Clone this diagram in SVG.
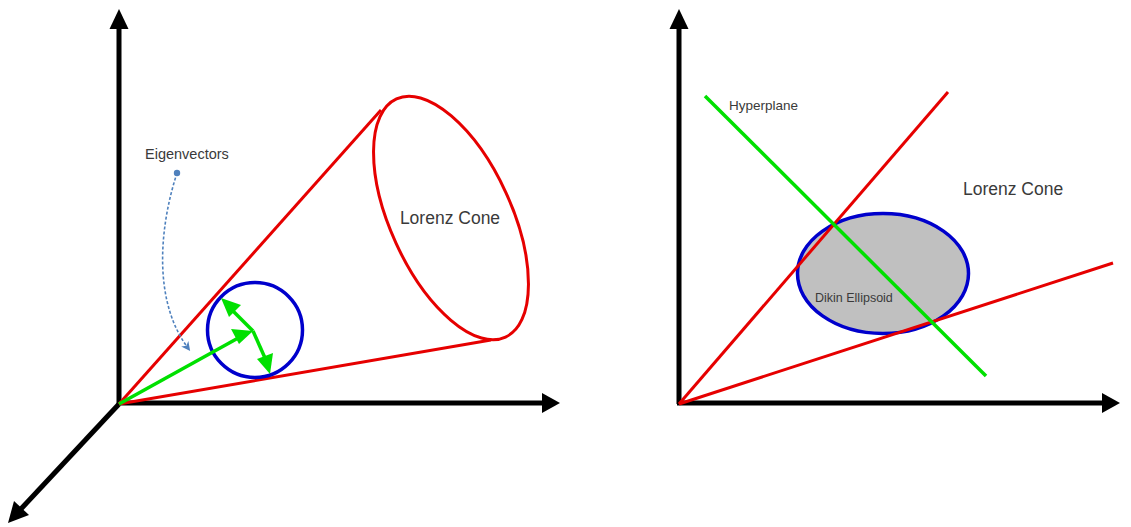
<svg xmlns="http://www.w3.org/2000/svg" width="1131" height="527" viewBox="0 0 1131 527">
<defs>
<style>
.axis{stroke:#000;stroke-width:5;fill:none}
.ah{fill:#000}
.red{stroke:#e60000;stroke-width:3;fill:none}
.blue{stroke:#0000cc;stroke-width:3.5}
.grn{stroke:#00e000;stroke-width:3.5;fill:none}
.gh{fill:#00e000}
.lbl{font-family:"Liberation Sans",Arial,sans-serif;fill:#3a3a3a}
</style>
<marker id="stealth" viewBox="0 0 10 10" refX="6" refY="5" markerWidth="9" markerHeight="9" markerUnits="userSpaceOnUse" orient="auto">
<path d="M0,0 L10,5 L0,10 L3,5 Z" fill="#4f81bd"/>
</marker>
</defs>
<rect width="1131" height="527" fill="#fff"/>

<g id="left-axes">
<line class="axis" x1="119" y1="404" x2="119" y2="26"/>
<path class="ah" d="M119,9 L128.5,29 L109.5,29 Z"/>
<line class="axis" x1="117" y1="403" x2="544" y2="403"/>
<path class="ah" d="M560,403 L542,393 L542,413 Z"/>
<line class="axis" x1="119" y1="404" x2="20" y2="510"/>
<path class="ah" d="M8,523 L14,501 L29,515 Z"/>
</g>

<g id="left-cone">
<line class="red" x1="119" y1="404" x2="381" y2="110"/>
<line class="red" x1="119" y1="404" x2="491" y2="340"/>
<ellipse class="red" cx="0" cy="0" rx="131" ry="60.5" transform="translate(451,218) rotate(65.4)"/>
<text class="lbl" x="450" y="224" font-size="17.5" text-anchor="middle">Lorenz Cone</text>
</g>

<g id="left-circle">
<circle class="blue" cx="255" cy="330" r="47.5" fill="none"/>
</g>

<g id="eigenvectors">
<line class="grn" x1="119" y1="404" x2="240" y2="337"/>
<path class="gh" d="M253,331 L231,329 L239,344 Z"/>
<line class="grn" x1="253" y1="331" x2="230" y2="308"/>
<path class="gh" d="M221,298 L241,305 L229,317 Z"/>
<line class="grn" x1="253" y1="331" x2="265" y2="358"/>
<path class="gh" d="M270,374 L257,359 L273,353 Z"/>
</g>

<g id="eigen-label">
<text class="lbl" x="145" y="159" font-size="14.5">Eigenvectors</text>
<circle cx="177" cy="173" r="3.2" fill="#4f81bd"/>
<path d="M177,173 C160,225 152,300 188,348" fill="none" stroke="#4f81bd" stroke-width="1.6" stroke-dasharray="3,2" marker-end="url(#stealth)"/>
</g>

<g id="right-axes">
<line class="axis" x1="679" y1="404" x2="679" y2="26"/>
<path class="ah" d="M679,9 L688.5,29 L669.5,29 Z"/>
<line class="axis" x1="677" y1="403" x2="1104" y2="403"/>
<path class="ah" d="M1120,403 L1102,393 L1102,413 Z"/>
</g>

<g id="right-ellipse">
<ellipse cx="883" cy="273.5" rx="85.5" ry="60" fill="#c0c0c0" class="blue"/>
<text class="lbl" x="815" y="302" font-size="12.5">Dikin Ellipsoid</text>
</g>

<g id="right-cone">
<line class="red" x1="679" y1="404" x2="948" y2="92"/>
<line class="red" x1="679" y1="404" x2="1113" y2="263"/>
<text class="lbl" x="963" y="195" font-size="17.5">Lorenz Cone</text>
</g>

<g id="hyperplane">
<line class="grn" x1="705" y1="96" x2="986" y2="376"/>
<text class="lbl" x="729" y="110" font-size="13.5">Hyperplane</text>
</g>
</svg>
